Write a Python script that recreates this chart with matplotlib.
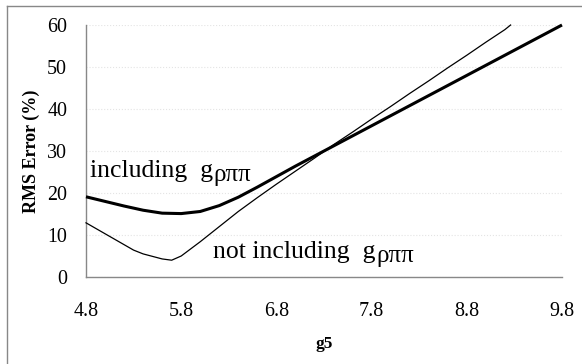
import matplotlib
matplotlib.use("Agg")
import matplotlib.pyplot as plt
from matplotlib.lines import Line2D

plt.rcParams['font.family'] = ['Liberation Serif', 'DejaVu Serif']

# Data
g5_incl = [4.8, 5.0, 5.2, 5.4, 5.6, 5.8, 6.0, 6.2, 6.4, 6.6, 6.8, 7.0, 7.2,
           7.4, 7.6, 7.8, 8.0, 8.2, 8.4, 8.6, 8.8, 9.0, 9.2, 9.4, 9.6, 9.8]
err_incl = [19.1, 18.0, 16.9, 15.9, 15.2, 15.1, 15.6, 17.0, 19.0, 21.4, 23.9, 26.4, 28.8,
            31.2, 33.6, 36.0, 38.4, 40.8, 43.2, 45.6, 48.0, 50.4, 52.8, 55.2, 57.6, 60.0]

g5_notincl = [4.8, 5.0, 5.2, 5.3, 5.4, 5.5, 5.6, 5.7, 5.8, 6.0, 6.2, 6.4, 6.6, 6.8, 7.0, 7.2,
              7.4, 7.6, 7.8, 8.0, 8.2, 8.4, 8.6, 8.8, 9.0, 9.2, 9.26]
err_notincl = [12.9, 10.3, 7.7, 6.4, 5.5, 4.9, 4.3, 4.0, 5.0, 8.4, 12.0, 15.6, 18.9, 22.1, 25.2, 28.3,
               31.5, 34.5, 37.6, 40.6, 43.7, 46.7, 49.8, 52.8, 55.9, 58.9, 60.0]

x_ticks = [4.8, 5.8, 6.8, 7.8, 8.8, 9.8]
y_ticks = [0, 10, 20, 30, 40, 50, 60]

W, H = 582, 364
fig = plt.figure(figsize=(W / 100, H / 100), dpi=100)
ax = fig.add_axes([86 / W, 1 - 277 / H, (562 - 86) / W, (277 - 25) / H])

ax.plot(g5_notincl, err_notincl, color='black', lw=0.9, clip_on=False, zorder=3)
ax.plot(g5_incl, err_incl, color='black', lw=2.2, clip_on=False, zorder=4,
        solid_capstyle='butt')

ax.set_xlim(4.8, 9.8)
ax.set_ylim(0, 60)
ax.set_xticks(x_ticks)
ax.set_xticklabels([f"{v:.1f}" for v in x_ticks])
ax.set_yticks(y_ticks)
ax.set_yticklabels([str(v) for v in y_ticks])
ax.tick_params(axis='both', length=0, labelsize=14.4)
ax.tick_params(axis='x', pad=18)
ax.tick_params(axis='y', pad=13.5)

for s in ['top', 'right']:
    ax.spines[s].set_visible(False)
for s in ['left', 'bottom']:
    ax.spines[s].set_color('#888888')
    ax.spines[s].set_linewidth(1.0)

ax.yaxis.grid(True, color='#e4e4e4', linestyle=':', linewidth=0.8)
ax.set_axisbelow(True)

ax.set_xlabel('g5', fontsize=12.5, fontweight='bold', labelpad=11)
ax.set_ylabel('RMS Error (%)', fontsize=13, fontweight='bold', labelpad=5)


def label(x, y, main, sub):
    t = ax.text(x, y, main, fontsize=18.5, ha='left', va='baseline')
    ax.annotate(sub, xy=(1, y), xycoords=(t, 'data'), xytext=(0.5, -3),
                textcoords='offset points', fontsize=18, ha='left', va='baseline')


label(4.842, 23.8, 'including  g', 'ρππ')
label(6.134, 4.5, 'not including  g', 'ρππ')

# figure border (top and left visible)
fig.add_artist(Line2D([7 / W, 7 / W], [0, 1 - 6 / H], transform=fig.transFigure,
                      color='#888888', lw=1.0))
fig.add_artist(Line2D([7 / W, 1], [1 - 6 / H, 1 - 6 / H], transform=fig.transFigure,
                      color='#888888', lw=1.0))

fig.savefig('out.png', dpi=100)
